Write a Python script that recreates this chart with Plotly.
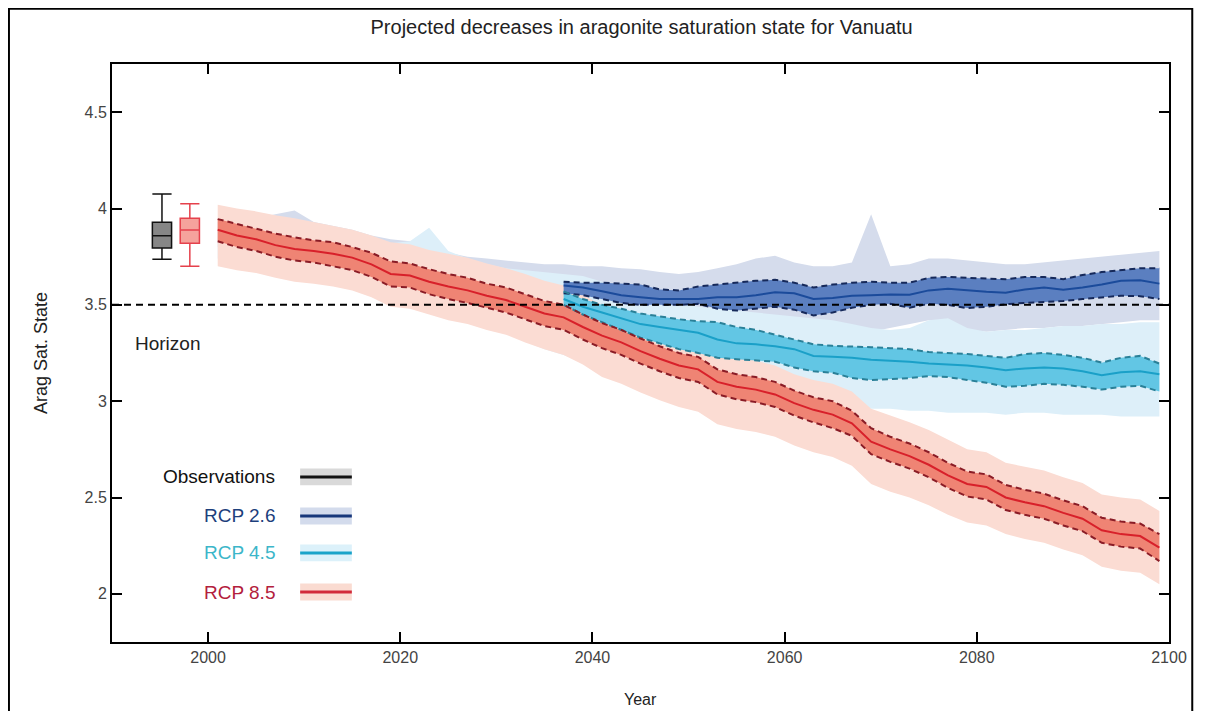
import plotly.graph_objects as go

# years for the RCP 8.5 run and the outer (light) bands of all scenarios
years = list(range(2001, 2100, 2))
# years where the RCP 2.6 / 4.5 inner bands are shown
years_in = list(range(2037, 2100, 2))

r85_med = [3.89, 3.86, 3.84, 3.81, 3.79, 3.78, 3.765, 3.745, 3.71, 3.66,
           3.652, 3.62, 3.595, 3.575, 3.547, 3.525, 3.49, 3.455, 3.435, 3.385,
           3.34, 3.305, 3.26, 3.22, 3.185, 3.165, 3.10, 3.075, 3.06, 3.035,
           2.99, 2.955, 2.93, 2.885, 2.79, 2.75, 2.715, 2.67, 2.615, 2.57,
           2.555, 2.50, 2.475, 2.455, 2.42, 2.39, 2.33, 2.31, 2.30, 2.24]
r85_hi = [3.945, 3.92, 3.895, 3.87, 3.85, 3.835, 3.825, 3.80, 3.77, 3.725,
          3.715, 3.685, 3.66, 3.64, 3.61, 3.59, 3.555, 3.52, 3.50, 3.45,
          3.405, 3.37, 3.325, 3.285, 3.25, 3.23, 3.165, 3.14, 3.125, 3.10,
          3.055, 3.02, 3.00, 2.95, 2.86, 2.815, 2.78, 2.735, 2.68, 2.635,
          2.62, 2.565, 2.54, 2.52, 2.485, 2.455, 2.395, 2.375, 2.365, 2.31]
r85_lo = [3.83, 3.80, 3.78, 3.75, 3.73, 3.72, 3.70, 3.68, 3.645, 3.595,
          3.59, 3.555, 3.53, 3.51, 3.485, 3.46, 3.425, 3.39, 3.37, 3.32,
          3.275, 3.24, 3.195, 3.155, 3.12, 3.10, 3.035, 3.01, 2.995, 2.97,
          2.925, 2.89, 2.86, 2.82, 2.725, 2.685, 2.65, 2.605, 2.55, 2.505,
          2.49, 2.435, 2.41, 2.39, 2.355, 2.325, 2.265, 2.245, 2.235, 2.17]
r85_top = [4.02, 4.00, 3.985, 3.965, 3.95, 3.93, 3.91, 3.89, 3.86, 3.825,
           3.815, 3.785, 3.765, 3.745, 3.715, 3.69, 3.66, 3.625, 3.60, 3.55,
           3.50, 3.465, 3.42, 3.38, 3.34, 3.32, 3.255, 3.23, 3.21, 3.185,
           3.14, 3.11, 3.09, 3.05, 2.96, 2.925, 2.89, 2.85, 2.80, 2.75,
           2.735, 2.68, 2.66, 2.64, 2.605, 2.575, 2.515, 2.50, 2.49, 2.43]
r85_bot = [3.70, 3.68, 3.665, 3.64, 3.62, 3.61, 3.595, 3.575, 3.54, 3.49,
           3.48, 3.45, 3.42, 3.40, 3.37, 3.345, 3.305, 3.27, 3.24, 3.19,
           3.125, 3.09, 3.045, 3.005, 2.97, 2.945, 2.88, 2.855, 2.84, 2.815,
           2.77, 2.735, 2.71, 2.665, 2.57, 2.53, 2.50, 2.46, 2.41, 2.37,
           2.355, 2.31, 2.285, 2.265, 2.23, 2.20, 2.14, 2.12, 2.11, 2.05]

r26_top = [3.93, 3.94, 3.95, 3.97, 3.99, 3.93, 3.91, 3.89, 3.86, 3.84,
           3.83, 3.82, 3.77, 3.75, 3.74, 3.73, 3.72, 3.71, 3.71, 3.70,
           3.70, 3.69, 3.685, 3.67, 3.66, 3.67, 3.69, 3.71, 3.74, 3.755,
           3.72, 3.70, 3.70, 3.72, 3.97, 3.70, 3.71, 3.74, 3.74, 3.73,
           3.72, 3.71, 3.71, 3.72, 3.73, 3.74, 3.75, 3.76, 3.77, 3.78]
r26_bot = [3.80, 3.79, 3.78, 3.76, 3.75, 3.73, 3.71, 3.69, 3.67, 3.64,
           3.62, 3.60, 3.58, 3.56, 3.54, 3.52, 3.50, 3.48, 3.46, 3.45,
           3.44, 3.43, 3.42, 3.41, 3.40, 3.40, 3.41, 3.42, 3.41, 3.40,
           3.39, 3.38, 3.38, 3.37, 3.36, 3.38, 3.40, 3.42, 3.41, 3.37,
           3.36, 3.37, 3.38, 3.38, 3.39, 3.39, 3.40, 3.41, 3.42, 3.42]
r45_top = [3.90, 3.90, 3.89, 3.88, 3.87, 3.86, 3.85, 3.84, 3.83, 3.82,
           3.83, 3.90, 3.78, 3.74, 3.71, 3.69, 3.68, 3.67, 3.66, 3.65,
           3.62, 3.59, 3.56, 3.53, 3.51, 3.49, 3.48, 3.47, 3.46, 3.45,
           3.44, 3.43, 3.42, 3.40, 3.38, 3.37, 3.38, 3.42, 3.43, 3.38,
           3.36, 3.37, 3.37, 3.38, 3.39, 3.39, 3.40, 3.40, 3.41, 3.41]
r45_bot = [3.74, 3.72, 3.70, 3.68, 3.66, 3.64, 3.62, 3.60, 3.57, 3.53,
           3.50, 3.47, 3.44, 3.41, 3.38, 3.35, 3.31, 3.27, 3.24, 3.20,
           3.16, 3.12, 3.08, 3.04, 3.00, 2.98, 2.97, 2.97, 2.96, 2.96,
           2.97, 2.98, 2.98, 2.97, 2.96, 2.96, 2.95, 2.95, 2.94, 2.94,
           2.94, 2.93, 2.94, 2.94, 2.93, 2.93, 2.93, 2.92, 2.92, 2.92]

r26_med = [3.60, 3.59, 3.57, 3.55, 3.54, 3.53, 3.53, 3.53, 3.54, 3.54,
           3.55, 3.565, 3.56, 3.53, 3.535, 3.547, 3.55, 3.553, 3.552, 3.575,
           3.583, 3.575, 3.568, 3.563, 3.58, 3.59, 3.578, 3.59, 3.605, 3.625,
           3.628, 3.61]
r26_hi = [3.62, 3.615, 3.615, 3.61, 3.605, 3.58, 3.575, 3.595, 3.605, 3.615,
          3.625, 3.63, 3.615, 3.59, 3.605, 3.615, 3.62, 3.615, 3.615, 3.64,
          3.645, 3.64, 3.635, 3.633, 3.645, 3.645, 3.633, 3.655, 3.67, 3.68,
          3.69, 3.69]
r26_lo = [3.56, 3.55, 3.53, 3.51, 3.50, 3.50, 3.50, 3.505, 3.48, 3.47,
          3.48, 3.49, 3.475, 3.445, 3.46, 3.485, 3.50, 3.505, 3.485, 3.505,
          3.50, 3.483, 3.49, 3.503, 3.51, 3.515, 3.52, 3.53, 3.54, 3.547,
          3.545, 3.53]
r45_med = [3.53, 3.49, 3.46, 3.43, 3.40, 3.385, 3.37, 3.355, 3.32, 3.30,
           3.295, 3.285, 3.27, 3.235, 3.23, 3.225, 3.215, 3.21, 3.205, 3.195,
           3.19, 3.185, 3.175, 3.16, 3.17, 3.175, 3.17, 3.155, 3.135, 3.15,
           3.155, 3.14]
r45_hi = [3.57, 3.53, 3.50, 3.48, 3.455, 3.44, 3.425, 3.415, 3.41, 3.385,
          3.37, 3.345, 3.32, 3.295, 3.287, 3.285, 3.28, 3.275, 3.27, 3.255,
          3.25, 3.245, 3.235, 3.225, 3.245, 3.25, 3.24, 3.225, 3.20, 3.225,
          3.235, 3.195]
r45_lo = [3.50, 3.45, 3.41, 3.37, 3.33, 3.30, 3.27, 3.25, 3.225, 3.218,
          3.21, 3.205, 3.175, 3.155, 3.148, 3.12, 3.11, 3.115, 3.12, 3.13,
          3.125, 3.11, 3.095, 3.075, 3.08, 3.09, 3.085, 3.075, 3.06, 3.075,
          3.08, 3.05]

# box summaries: [lower whisker, q1, median, q3, upper whisker]
obs_box = [3.737, 3.795, 3.859, 3.928, 4.075]
hist_box = [3.70, 3.82, 3.888, 3.949, 4.025]
box_x = [1995.2, 1998.1]

horizon = 3.5
legend_names = ['Observations', 'RCP 2.6', 'RCP 4.5', 'RCP 8.5']

FONT = 'Liberation Sans, Arial, sans-serif'


def band(x, lo, hi, color):
    return go.Scatter(x=x + x[::-1], y=hi + lo[::-1], fill='toself', fillcolor=color,
                      line=dict(width=0), mode='lines', hoverinfo='skip', showlegend=False)


def line(x, y, color, dash=None, width=2):
    return go.Scatter(x=x, y=y, mode='lines', showlegend=False, hoverinfo='skip',
                      line=dict(color=color, width=width, dash=dash))


fig = go.Figure()

# outer bands
fig.add_trace(band(years, r26_bot, r26_top, '#d5dcec'))
fig.add_trace(band(years, r45_bot, r45_top, '#ddeff9'))
fig.add_trace(band(years, r85_bot, r85_top, '#fbdcd3'))

# inner bands
fig.add_trace(band(years_in, r26_lo, r26_hi, '#5b7fc0'))
fig.add_trace(band(years_in, r45_lo, r45_hi, '#62c6e4'))
fig.add_trace(band(years, r85_lo, r85_hi, '#ef8474'))

# dashed edges and medians
dash = '6px,4px'
fig.add_trace(line(years_in, r26_hi, '#16295a', dash))
fig.add_trace(line(years_in, r26_lo, '#16295a', dash))
fig.add_trace(line(years_in, r26_med, '#1b4b9b'))
fig.add_trace(line(years_in, r45_hi, '#2a8098', dash))
fig.add_trace(line(years_in, r45_lo, '#2a8098', dash))
fig.add_trace(line(years_in, r45_med, '#1aa0c8'))
fig.add_trace(line(years, r85_hi, '#8a1c26', dash))
fig.add_trace(line(years, r85_lo, '#8a1c26', dash))
fig.add_trace(line(years, r85_med, '#d8202a'))

# observation / historical boxes
for bx, b, fc, lc in [(box_x[0], obs_box, '#868686', '#111111'),
                      (box_x[1], hist_box, '#f5a39c', '#e5414c')]:
    fig.add_trace(go.Box(x=[bx], lowerfence=[b[0]], q1=[b[1]], median=[b[2]], q3=[b[3]],
                         upperfence=[b[4]], width=2, whiskerwidth=1, fillcolor=fc,
                         line=dict(color=lc, width=1.5), boxpoints=False,
                         showlegend=False, hoverinfo='skip'))

shapes = [
    dict(type='line', xref='paper', yref='y', x0=0, x1=1, y0=horizon, y1=horizon,
         line=dict(color='black', width=2, dash='7px,5px'), layer='above'),
    # outer frame of the figure
    dict(type='rect', xref='paper', yref='paper', x0=-0.0975, x1=1.022, y0=-0.2, y1=1.0955,
         line=dict(color='black', width=2)),
]

annotations = [
    dict(text='Horizon', x=1992.2, y=3.3, xref='x', yref='y', xanchor='left',
         yanchor='middle', showarrow=False, font=dict(size=19, color='#222', family=FONT)),
    dict(text='Arag Sat. State', x=0, y=0.5, xref='paper', yref='paper', xshift=-71,
         xanchor='center', yanchor='middle', textangle=-90, showarrow=False,
         font=dict(size=18, color='#222', family=FONT)),
    dict(text='Year', x=0.5, y=0, xref='paper', yref='paper', yshift=-57,
         xanchor='center', yanchor='middle', showarrow=False,
         font=dict(size=16, color='#222', family=FONT)),
]

# custom legend (text left of the sample)
leg_y = [0.2855, 0.218, 0.154, 0.0865]
leg_text_col = ['#111111', '#1d3f7c', '#3cb6c9', '#b3203c']
leg_band = ['#d9d9d9', '#d3dbec', '#dcf1fa', '#fadbd1']
leg_line = ['#111111', '#17377a', '#1aa3c9', '#d22a3a']
for name, ly, tc, bc, lc in zip(legend_names, leg_y, leg_text_col, leg_band, leg_line):
    annotations.append(dict(text=name, x=0.1563, y=ly, xref='paper', yref='paper',
                            xanchor='right', yanchor='middle', showarrow=False,
                            font=dict(size=19, color=tc, family=FONT)))
    shapes.append(dict(type='rect', xref='paper', yref='paper', x0=0.178, x1=0.2269,
                       y0=ly - 0.0145, y1=ly + 0.0145, fillcolor=bc, line=dict(width=0)))
    shapes.append(dict(type='line', xref='paper', yref='paper', x0=0.178, x1=0.2269,
                       y0=ly, y1=ly, line=dict(color=lc, width=3)))

fig.update_layout(
    width=1191, height=703,
    margin=dict(l=104, r=25, t=56, b=69),
    paper_bgcolor='white', plot_bgcolor='white',
    title=dict(text='Projected decreases in aragonite saturation state for Vanuatu',
               x=0.532, y=0.973, xanchor='center', yanchor='middle',
               font=dict(size=20, color='#222', family=FONT)),
    font=dict(family=FONT),
    shapes=shapes,
    annotations=annotations,
    showlegend=False,
)
fig.update_xaxes(range=[1990, 2100], tickvals=[2000, 2020, 2040, 2060, 2080, 2100],
                 ticks='inside', ticklen=10, tickwidth=2, tickcolor='black',
                 showline=True, linecolor='black', linewidth=2, mirror='ticks',
                 showgrid=False, zeroline=False,
                 tickfont=dict(size=16, color='#444'))
fig.update_yaxes(range=[1.75, 4.75], tickvals=[2, 2.5, 3, 3.5, 4, 4.5],
                 ticks='inside', ticklen=10, tickwidth=2, tickcolor='black',
                 showline=True, linecolor='black', linewidth=2, mirror='ticks',
                 showgrid=False, zeroline=False,
                 tickfont=dict(size=16, color='#444'))

fig.write_html('out.html')
